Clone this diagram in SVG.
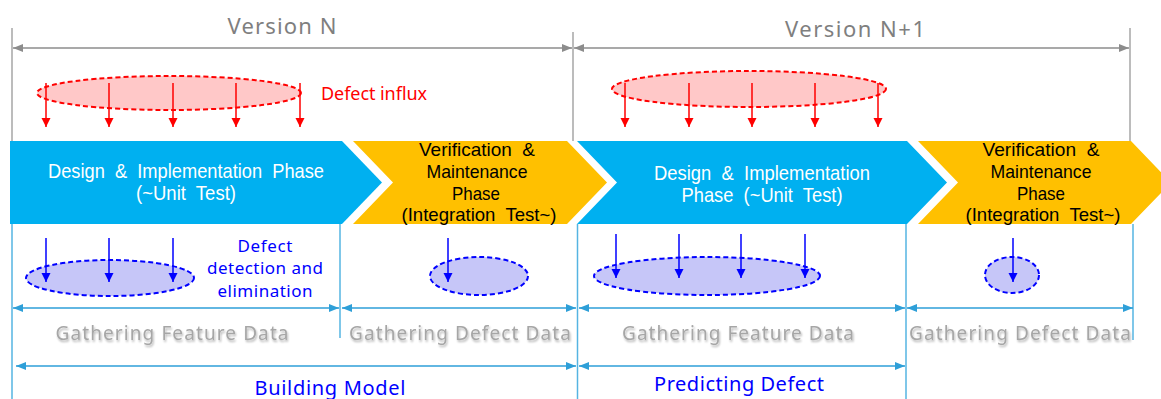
<svg xmlns="http://www.w3.org/2000/svg" width="1161" height="399" viewBox="0 0 1161 399">
<style>
.gline{stroke:#A6A6A6;stroke-width:1.5;fill:none}
.garrow{stroke:#8C8C8C;stroke-width:1.5;fill:none;marker-start:url(#gh);marker-end:url(#gh)}
.bline{stroke:#55B4E2;stroke-width:1.5;fill:none}
.barrow{stroke:#2E9FD8;stroke-width:1.5;fill:none;marker-start:url(#bh);marker-end:url(#bh)}
.redarr{stroke:#FF0000;stroke-width:1.5;marker-end:url(#rh)}
.bluarr{stroke:#0000FF;stroke-width:1.5;marker-end:url(#uh)}
.rell{fill:#FFC8C8;stroke:#FF0000;stroke-width:2;stroke-dasharray:5,3}
.uell{fill:#C6C6F8;stroke:#0000FF;stroke-width:2;stroke-dasharray:5,3}
.blue{fill:#00B0F0}
.orange{fill:#FFC000}
.ct{font-family:"Liberation Sans",Arial,sans-serif;font-size:21px;text-anchor:middle;white-space:pre}
.ck{font-family:"Liberation Sans",Arial,sans-serif;font-size:18.5px;text-anchor:middle;white-space:pre;fill:#000000}
.w{fill:#FFFFFF}
.ver{font-family:"Noto Sans","Open Sans",sans-serif;font-size:22px;fill:#7F7F7F;text-anchor:middle}
.lab{font-family:"Noto Sans","Open Sans",sans-serif;font-size:19px;fill:#A6A6A6;text-anchor:middle}
.bt{font-family:"Noto Sans","Open Sans",sans-serif;font-size:17px;fill:#0000FF;text-anchor:middle}
.big{font-family:"Noto Sans","Open Sans",sans-serif;font-size:20px;fill:#0000FF;text-anchor:middle}
.rt{font-family:"Noto Sans","Open Sans",sans-serif;font-size:18px;fill:#FF0000}
</style>
<defs>
<marker id="gh" markerUnits="userSpaceOnUse" markerWidth="11" markerHeight="9" refX="10" refY="4" orient="auto-start-reverse"><path d="M0,0 L10,4 L0,8 z" fill="#8C8C8C"/></marker>
<marker id="bh" markerUnits="userSpaceOnUse" markerWidth="11" markerHeight="9" refX="10" refY="4" orient="auto-start-reverse"><path d="M0,0 L10,4 L0,8 z" fill="#2E9FD8"/></marker>
<marker id="rh" markerUnits="userSpaceOnUse" markerWidth="10" markerHeight="10" refX="9" refY="4.5" orient="auto"><path d="M0,0 L9,4.5 L0,9 z" fill="#FF0000"/></marker>
<marker id="uh" markerUnits="userSpaceOnUse" markerWidth="10" markerHeight="10" refX="9" refY="4.5" orient="auto"><path d="M0,0 L9,4.5 L0,9 z" fill="#0000FF"/></marker>
<filter id="sh" x="-10%" y="-30%" width="120%" height="160%">
<feGaussianBlur in="SourceAlpha" stdDeviation="1.2"/>
<feOffset dx="1" dy="1.5" result="b"/>
<feComponentTransfer><feFuncA type="linear" slope="0.3"/></feComponentTransfer>
<feMerge><feMergeNode/><feMergeNode in="SourceGraphic"/></feMerge>
</filter>
</defs>

<g id="connectors">
<line class="gline" x1="12" y1="28" x2="12" y2="141"/>
<line class="gline" x1="573" y1="32" x2="573" y2="141"/>
<line class="gline" x1="1130" y1="28" x2="1130" y2="141"/>
<line class="garrow" x1="13" y1="48" x2="572" y2="48"/>
<line class="garrow" x1="574" y1="48" x2="1129" y2="48"/>
<line class="bline" x1="12" y1="224" x2="12" y2="399"/>
<line class="bline" x1="340" y1="224" x2="340" y2="338"/>
<line class="bline" x1="577.5" y1="224" x2="577.5" y2="399"/>
<line class="bline" x1="906" y1="224" x2="906" y2="399"/>
<line class="bline" x1="1133" y1="224" x2="1133" y2="340"/>
<line class="barrow" x1="13" y1="308" x2="339" y2="308"/>
<line class="barrow" x1="342" y1="308" x2="576" y2="308"/>
<line class="barrow" x1="579" y1="308" x2="905" y2="308"/>
<line class="barrow" x1="907" y1="308" x2="1133" y2="308"/>
<line class="barrow" x1="16" y1="366" x2="576" y2="366"/>
<line class="barrow" x1="579" y1="366" x2="905" y2="366"/>
</g>

<g id="version-n"><text class="ver" x="282" y="34" textLength="109">Version N</text></g>
<g id="version-n1"><text class="ver" x="855" y="37" textLength="140">Version N+1</text></g>

<g id="influx-1">
<ellipse class="rell" cx="169" cy="93" rx="132" ry="17"/>
<line class="redarr" x1="46" y1="83" x2="46" y2="127"/>
<line class="redarr" x1="109" y1="83" x2="109" y2="127"/>
<line class="redarr" x1="173" y1="83" x2="173" y2="127"/>
<line class="redarr" x1="236" y1="83" x2="236" y2="127"/>
<line class="redarr" x1="300" y1="83" x2="300" y2="127"/>
<text class="rt" x="321" y="100" textLength="106">Defect influx</text>
</g>

<g id="influx-2">
<ellipse class="rell" cx="749" cy="89" rx="137" ry="18"/>
<line class="redarr" x1="625" y1="83" x2="625" y2="127"/>
<line class="redarr" x1="689" y1="83" x2="689" y2="127"/>
<line class="redarr" x1="752" y1="83" x2="752" y2="127"/>
<line class="redarr" x1="815" y1="83" x2="815" y2="127"/>
<line class="redarr" x1="878" y1="83" x2="878" y2="127"/>
</g>

<g id="phase-design-1">
<polygon class="blue" points="10,141 342,141 382,182.5 342,224 10,224"/>
<text class="ct w" xml:space="preserve" x="186" y="178" textLength="276" lengthAdjust="spacingAndGlyphs">Design  &amp;  Implementation  Phase</text>
<text class="ct w" xml:space="preserve" x="186" y="200" textLength="100" lengthAdjust="spacingAndGlyphs">(~Unit  Test)</text>
</g>

<g id="phase-verif-1">
<polygon class="orange" points="353,141 567,141 607,182.5 567,224 353,224 393,182.5"/>
<text class="ck" xml:space="preserve" x="477" y="156" textLength="116" lengthAdjust="spacingAndGlyphs">Verification  &amp;</text>
<text class="ck" x="477" y="178" textLength="101" lengthAdjust="spacingAndGlyphs">Maintenance</text>
<text class="ck" x="476" y="200" textLength="48" lengthAdjust="spacingAndGlyphs">Phase</text>
<text class="ck" xml:space="preserve" x="479" y="221" textLength="155" lengthAdjust="spacingAndGlyphs">(Integration  Test~)</text>
</g>

<g id="phase-design-2">
<polygon class="blue" points="577,141 907,141 947,182.5 907,224 577,224 617,182.5"/>
<text class="ct w" xml:space="preserve" x="762" y="180" textLength="216" lengthAdjust="spacingAndGlyphs">Design  &amp;  Implementation</text>
<text class="ct w" xml:space="preserve" x="762" y="202" textLength="161" lengthAdjust="spacingAndGlyphs">Phase  (~Unit  Test)</text>
</g>

<g id="phase-verif-2">
<polygon class="orange" points="918,141 1131,141 1171,182.5 1131,224 918,224 958,182.5"/>
<text class="ck" xml:space="preserve" x="1041" y="156" textLength="117" lengthAdjust="spacingAndGlyphs">Verification  &amp;</text>
<text class="ck" x="1041" y="178" textLength="101" lengthAdjust="spacingAndGlyphs">Maintenance</text>
<text class="ck" x="1041" y="200" textLength="48" lengthAdjust="spacingAndGlyphs">Phase</text>
<text class="ck" xml:space="preserve" x="1043" y="221" textLength="155" lengthAdjust="spacingAndGlyphs">(Integration  Test~)</text>
</g>

<g id="detect-1">
<ellipse class="uell" cx="110" cy="278" rx="84" ry="18"/>
<line class="bluarr" x1="46" y1="238" x2="46" y2="282"/>
<line class="bluarr" x1="109" y1="238" x2="109" y2="282"/>
<line class="bluarr" x1="173" y1="238" x2="173" y2="282"/>
<text class="bt" x="265" y="252" textLength="55">Defect</text>
<text class="bt" x="265" y="274" textLength="116">detection and</text>
<text class="bt" x="265" y="297" textLength="95">elimination</text>
</g>

<g id="detect-2">
<ellipse class="uell" cx="479" cy="276" rx="49" ry="19"/>
<line class="bluarr" x1="448" y1="238" x2="448" y2="282"/>
</g>

<g id="detect-3">
<ellipse class="uell" cx="707" cy="276" rx="113" ry="19"/>
<line class="bluarr" x1="616" y1="234" x2="616" y2="278"/>
<line class="bluarr" x1="679" y1="234" x2="679" y2="278"/>
<line class="bluarr" x1="741" y1="234" x2="741" y2="278"/>
<line class="bluarr" x1="805" y1="234" x2="805" y2="278"/>
</g>

<g id="detect-4">
<ellipse class="uell" cx="1012" cy="275" rx="27" ry="18"/>
<line class="bluarr" x1="1013" y1="238" x2="1013" y2="282"/>
</g>

<g id="gather-feature-1"><text class="lab" filter="url(#sh)" x="172" y="340" textLength="233">Gathering Feature Data</text></g>
<g id="gather-defect-1"><text class="lab" filter="url(#sh)" x="460" y="340" textLength="222">Gathering Defect Data</text></g>
<g id="gather-feature-2"><text class="lab" filter="url(#sh)" x="738" y="340" textLength="232">Gathering Feature Data</text></g>
<g id="gather-defect-2"><text class="lab" filter="url(#sh)" x="1020" y="340" textLength="222">Gathering Defect Data</text></g>

<g id="building-model"><text class="big" x="330" y="395" textLength="151">Building Model</text></g>
<g id="predicting-defect"><text class="big" x="739" y="391" textLength="170">Predicting Defect</text></g>
</svg>
